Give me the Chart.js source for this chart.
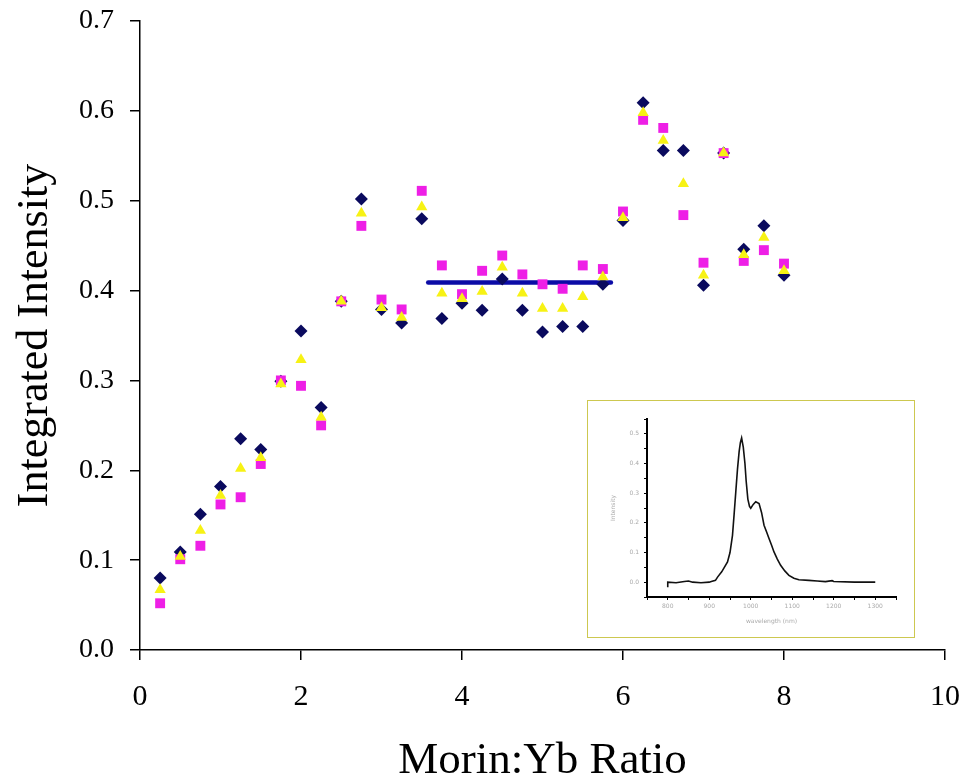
<!DOCTYPE html>
<html lang="en">
<head>
<meta charset="utf-8">
<title>Integrated Intensity vs Morin:Yb Ratio</title>
<script src="https://cdn.jsdelivr.net/npm/chart.js"></script>
<style>
  html,body{margin:0;padding:0;background:#fff;}
  #wrap{position:relative;width:963px;height:784px;}
  #main{position:absolute;left:0;top:0;}
  #insetBox{position:absolute;left:587px;top:400px;width:326px;height:236px;
            border:1.5px solid #cdc850;background:#fff;}
  #inset{position:absolute;left:0;top:0;}
</style>
</head>
<body>
<div id="wrap">
  <canvas id="main" width="963" height="784"></canvas>
  <div id="insetBox"><canvas id="inset" width="326" height="236"></canvas></div>
</div>

<script>
/* ── data ──────────────────────────────────────────────────── */
const ratio   = [0.25,0.5,0.75,1,1.25,1.5,1.75,2,2.25,2.5,2.75,3,3.25,3.5,3.75,4,
                 4.25,4.5,4.75,5,5.25,5.5,5.75,6,6.25,6.5,6.75,7,7.25,7.5,7.75,8];
const navy    = [0.080,0.109,0.151,0.182,0.235,0.223,0.299,0.355,0.270,0.388,0.502,0.379,
                 0.364,0.480,0.369,0.386,0.378,0.413,0.378,0.354,0.360,0.360,0.407,0.478,
                 0.609,0.556,0.556,0.406,0.553,0.446,0.472,0.417];
const yellow  = [0.067,0.104,0.133,0.172,0.202,0.214,0.296,0.323,0.259,0.388,0.486,0.381,
                 0.370,0.493,0.397,0.391,0.399,0.426,0.397,0.380,0.380,0.393,0.415,0.481,
                 0.598,0.567,0.519,0.417,0.553,0.440,0.459,0.422];
const magenta = [0.052,0.101,0.116,0.162,0.170,0.207,0.300,0.294,0.250,0.388,0.472,0.390,
                 0.379,0.511,0.428,0.396,0.422,0.439,0.418,0.407,0.402,0.428,0.424,0.488,
                 0.590,0.581,0.484,0.431,0.553,0.433,0.445,0.430];
const meanX   = [3.58, 5.85];
const meanY   = [0.409, 0.409];

// inset spectrum (wavelength nm, intensity)
const waveNm  = [800,800,820,840,850,860,880,900,905,915,920,930,944,950,956,960,964,
                 968,972,975,978,982,986,989,993,997,1000,1006,1012,1020,1026,1032,
                 1038,1044,1050,1056,1064,1072,1082,1092,1104,1116,1140,1160,1180,1196,1200,1250,1300];
const waveInt = [-0.017,0.0,-0.002,0.002,0.004,0.0,-0.002,0.0,0.002,0.006,0.017,0.035,0.068,
                 0.100,0.158,0.230,0.305,0.380,0.440,0.470,0.486,0.455,0.400,0.340,0.280,0.255,
                 0.249,0.262,0.271,0.265,0.235,0.192,0.170,0.147,0.125,0.102,0.078,0.057,0.038,
                 0.023,0.013,0.008,0.006,0.004,0.002,0.005,0.002,0.0,0.0];

const xTicks = [0,2,4,6,8,10];
const yTicks = [0.0,0.1,0.2,0.3,0.4,0.5,0.6,0.7];

const pts = ys => ratio.map((x,i)=>({x, y:ys[i]}));
const SERIF = '"Liberation Serif","Times New Roman",serif';

// let layout.padding alone decide the margins
function noOverflow(s){ s.paddingTop = 0; s.paddingBottom = 0; s.paddingLeft = 0; s.paddingRight = 0; }

/* ── main chart ────────────────────────────────────────────── */
new Chart(document.getElementById('main'), {
  type:'scatter',
  data:{datasets:[
    {label:'mean', type:'line', data:meanX.map((x,i)=>({x, y:meanY[i]})),
     borderColor:'#0b0ba6', borderWidth:4.5, borderCapStyle:'round', pointRadius:0, order:4},
    {label:'A', data:pts(navy), pointStyle:'rectRot', pointRadius:6.5,
     backgroundColor:'#0a0a5e', borderColor:'#0a0a5e', borderWidth:0, order:3},
    {label:'C', data:pts(magenta), pointStyle:'rect', pointRadius:7,
     backgroundColor:'#ee1fe6', borderColor:'#ee1fe6', borderWidth:0, order:2},
    {label:'B', data:pts(yellow), pointStyle:'triangle', pointRadius:6.5,
     backgroundColor:'#f7f214', borderColor:'#f7f214', borderWidth:0, order:1}
  ]},
  options:{
    responsive:false, animation:false,
    layout:{padding:{top:21,right:18,left:0,bottom:0}},
    plugins:{legend:{display:false}, tooltip:{enabled:false}},
    scales:{
      x:{type:'linear', min:0, max:10,
         afterBuildTicks:s=>{s.ticks = xTicks.map(v=>({value:v}));},
         afterFit:s=>{s.height = 134; noOverflow(s);},
         grid:{drawOnChartArea:false, tickLength:10, color:'#000', lineWidth:1.5},
         border:{color:'#000', width:1.5},
         ticks:{color:'#000', padding:19, font:{family:SERIF, size:30}, maxRotation:0},
         title:{display:true, text:'Morin:Yb Ratio', color:'#000',
                font:{family:SERIF, size:45, lineHeight:1}, padding:{bottom:0, top:0}}},
      y:{type:'linear', min:0, max:0.7,
         afterBuildTicks:s=>{s.ticks = yTicks.map(v=>({value:v}));},
         afterFit:s=>{s.width = 140; noOverflow(s);},
         grid:{drawOnChartArea:false, tickLength:10, color:'#000', lineWidth:1.5},
         border:{color:'#000', width:1.5},
         ticks:{color:'#000', padding:16, font:{family:SERIF, size:28},
                callback:v=>v.toFixed(1)},
         title:{display:true, text:'Integrated Intensity', color:'#000',
                font:{family:SERIF, size:44, lineHeight:1}, padding:{top:13, bottom:0}}}
    }
  }
});

/* ── inset spectrum ────────────────────────────────────────── */
const tiny = {family:'"DejaVu Sans",sans-serif', size:6};
new Chart(document.getElementById('inset'), {
  type:'line',
  data:{datasets:[{data:waveNm.map((x,i)=>({x, y:waveInt[i]})),
    borderColor:'#111', borderWidth:1.6, pointRadius:0, tension:0}]},
  options:{
    responsive:false, animation:false,
    layout:{padding:{top:18,right:18,left:0,bottom:0}},
    plugins:{legend:{display:false}, tooltip:{enabled:false}},
    scales:{
      x:{type:'linear', min:750, max:1350,
         ticks:{stepSize:50, color:'#aaa', font:tiny, padding:3, maxRotation:0,
                callback:v=> v%100===0 && v>=800 && v<=1300 ? String(v) : ''},
         afterFit:s=>{s.height = 40; noOverflow(s);},
         grid:{drawOnChartArea:false, tickLength:3, color:'#000', lineWidth:1},
         border:{color:'#000', width:2},
         title:{display:true, text:'wavelength (nm)', color:'#aaa', font:tiny,
                padding:{top:0,bottom:12}}},
      y:{type:'linear', min:-0.05, max:0.55,
         ticks:{stepSize:0.05, color:'#aaa', font:tiny, padding:5,
                callback:v=>{const r=Math.round(v*100); return r>=0 && r%10===0 ? (r/100).toFixed(1) : '';}},
         afterFit:s=>{s.width = 59; noOverflow(s);},
         grid:{drawOnChartArea:false, tickLength:3, color:'#000', lineWidth:1},
         border:{color:'#000', width:2},
         title:{display:true, text:'Intensity', color:'#aaa', font:tiny,
                padding:{top:22,bottom:0}}}
    }
  }
});
</script>
</body>
</html>
